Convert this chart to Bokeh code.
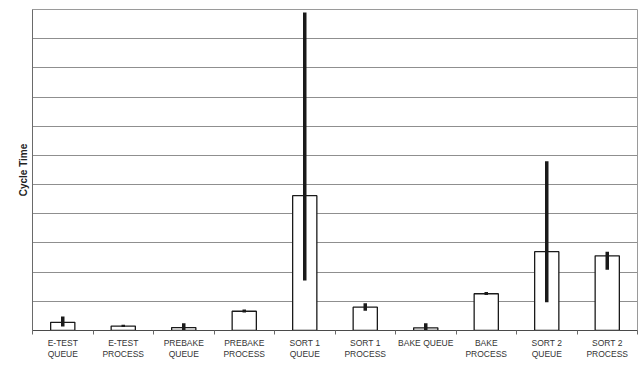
from bokeh.plotting import figure
from bokeh.models import FixedTicker, Range1d, ColumnDataSource
from bokeh.embed import file_html
from bokeh.resources import INLINE

categories = ["E-TEST\nQUEUE", "E-TEST\nPROCESS", "PREBAKE\nQUEUE", "PREBAKE\nPROCESS",
              "SORT 1\nQUEUE", "SORT 1\nPROCESS", "BAKE QUEUE", "BAKE\nPROCESS",
              "SORT 2\nQUEUE", "SORT 2\nPROCESS"]
cycle_time = [0.28, 0.15, 0.10, 0.66, 4.62, 0.80, 0.09, 1.26, 2.70, 2.56]
err_low = [0.14, 0.12, 0.0, 0.62, 1.71, 0.68, 0.0, 1.22, 0.97, 2.08]
err_high = [0.48, 0.20, 0.25, 0.72, 10.9, 0.93, 0.25, 1.32, 5.80, 2.70]

x = [i + 0.5 for i in range(len(categories))]
src = ColumnDataSource(dict(x=x, top=cycle_time, lo=err_low, hi=err_high))

p = figure(width=644, height=373, output_backend="svg", toolbar_location=None,
           x_range=Range1d(0, len(categories)), y_range=Range1d(0, 11),
           min_border_left=32, min_border_right=7, min_border_top=9, min_border_bottom=43)
p.background_fill_color = "white"
p.border_fill_color = "white"
p.outline_line_color = "#9a9a9a"
p.outline_line_width = 1

p.vbar(x="x", top="top", width=0.4, source=src, fill_color="white",
       line_color="#1a1a1a", line_width=1.3)
p.segment(x0="x", y0="lo", x1="x", y1="hi", source=src, line_color="#1a1a1a",
          line_width=3.5)

p.xgrid.visible = False
p.ygrid.grid_line_color = "#8f8f8f"
p.ygrid.grid_line_width = 1
p.yaxis.ticker = FixedTicker(ticks=list(range(0, 12)))
p.yaxis.major_label_text_color = None
p.yaxis.major_label_text_font_size = "0px"
p.yaxis.major_label_standoff = 0
p.yaxis.major_tick_out = 0
p.yaxis.major_tick_line_color = None
p.yaxis.minor_tick_line_color = None
p.yaxis.axis_line_color = "#6a6a6a"
p.yaxis.axis_label = "Cycle Time"
p.yaxis.axis_label_text_font = "Liberation Sans"
p.yaxis.axis_label_text_font_style = "bold"
p.yaxis.axis_label_text_font_size = "10px"
p.yaxis.axis_label_text_color = "#222222"
p.yaxis.axis_label_standoff = 4

p.xaxis.ticker = FixedTicker(ticks=x, minor_ticks=list(range(0, len(categories) + 1)))
p.xaxis.major_label_overrides = {xi: c for xi, c in zip(x, categories)}
p.xaxis.major_tick_line_color = None
p.xaxis.major_tick_out = 0
p.xaxis.minor_tick_line_color = "#6a6a6a"
p.xaxis.minor_tick_in = 0
p.xaxis.minor_tick_out = 4
p.xaxis.axis_line_color = "#4a4a4a"
p.xaxis.major_label_text_font = "Liberation Sans"
p.xaxis.major_label_text_font_size = "8.5px"
p.xaxis.major_label_text_line_height = 1.1
p.xaxis.major_label_text_color = "#333333"
p.xaxis.major_label_standoff = 3

open("out.html", "w").write(file_html(p, INLINE))
